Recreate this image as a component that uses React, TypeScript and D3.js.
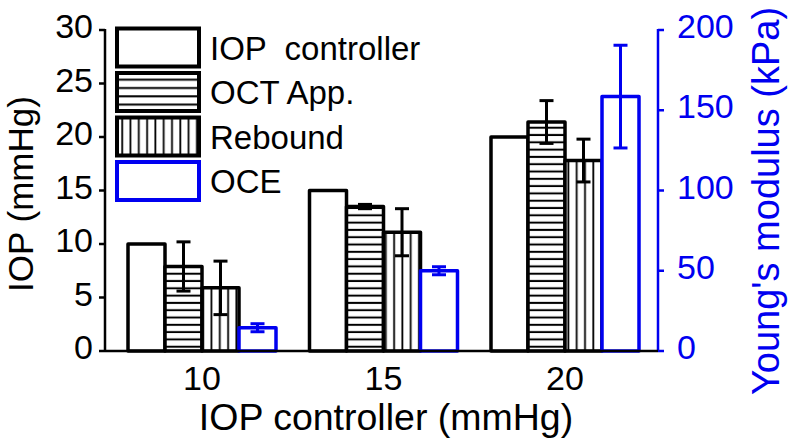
import React from 'react';
import * as d3 from 'd3';

const categories = ['10', '15', '20'];
const seriesNames = ['IOP  controller', 'OCT App.', 'Rebound', 'OCE'];
const iopController = [10, 15, 20];
const octApp = [7.9, 13.5, 21.4];
const octAppErr = [2.3, 0.2, 2.0];
const rebound = [5.9, 11.1, 17.8];
const reboundErr = [2.5, 2.2, 2.0];
const oce = [14.5, 50, 158.5];
const oceErr = [2.5, 2.5, 32];
const leftTicks = [0, 5, 10, 15, 20, 25, 30];
const rightTicks = [0, 50, 100, 150, 200];

const BLUE = '#0000f0';
const FONT = '"Liberation Sans", Arial, Helvetica, sans-serif';

export default function App() {
  const W = 792, H = 446;
  const x0 = 105, x1 = 658, yBase = 351, yTop = 30;
  const yL = d3.scaleLinear().domain([0, 30]).range([yBase, yTop]);
  const yR = d3.scaleLinear().domain([0, 200]).range([yBase, yTop]);
  const xG = d3.scalePoint<string>().domain(categories).range([202, 565]);
  const xS = d3.scaleBand<string>().domain(seriesNames).range([-74, 74]).padding(0);
  const bw = xS.bandwidth();

  const series = [
    { name: seriesNames[0], values: iopController, err: null as number[] | null, fill: 'white', stroke: 'black', y: yL },
    { name: seriesNames[1], values: octApp, err: octAppErr, fill: 'url(#hatchH)', stroke: 'black', y: yL },
    { name: seriesNames[2], values: rebound, err: reboundErr, fill: 'url(#hatchV)', stroke: 'black', y: yL },
    { name: seriesNames[3], values: oce, err: oceErr, fill: 'white', stroke: BLUE, y: yR },
  ];

  const legendFills = ['white', 'url(#hatchHL)', 'url(#hatchVL)', 'white'];
  const legendStrokes = ['black', 'black', 'black', BLUE];

  return (
    <div style={{ position: 'absolute', left: 0, top: 0 }}>
      <svg width={W} height={H} style={{ display: 'block', background: 'white' }} fontFamily={FONT}>
        <defs>
          <pattern id="hatchH" patternUnits="userSpaceOnUse" width={10} height={7.3}>
            <rect width={10} height={7.3} fill="white" />
            <line x1={0} x2={10} y1={3.6} y2={3.6} stroke="black" strokeWidth={2} />
          </pattern>
          <pattern id="hatchV" patternUnits="userSpaceOnUse" width={8.3} height={10}>
            <rect width={8.3} height={10} fill="white" />
            <line x1={4} x2={4} y1={0} y2={10} stroke="black" strokeWidth={1.8} />
          </pattern>
          <pattern id="hatchHL" patternUnits="userSpaceOnUse" width={10} height={8.3} y={1}>
            <rect width={10} height={8.3} fill="white" />
            <line x1={0} x2={10} y1={4} y2={4} stroke="black" strokeWidth={2} />
          </pattern>
          <pattern id="hatchVL" patternUnits="userSpaceOnUse" width={8.3} height={10} x={2}>
            <rect width={8.3} height={10} fill="white" />
            <line x1={4} x2={4} y1={0} y2={10} stroke="black" strokeWidth={1.8} />
          </pattern>
        </defs>

        {/* bars */}
        {categories.map((c, ci) => (
          <g key={c}>
            {series.map((s) => {
              const xx = (xG(c) as number) + (xS(s.name) as number);
              const yy = s.y(s.values[ci]);
              return (
                <rect key={s.name} x={xx} y={yy} width={bw} height={yBase - yy}
                  fill={s.fill} stroke={s.stroke} strokeWidth={3.5} strokeLinejoin="round" />
              );
            })}
          </g>
        ))}

        {/* error bars */}
        {categories.map((c, ci) => (
          <g key={'e' + c}>
            {series.filter((s) => s.err).map((s) => {
              const cx = (xG(c) as number) + (xS(s.name) as number) + bw / 2;
              const v = s.values[ci];
              const e = (s.err as number[])[ci];
              const yt = s.y(v + e), yb = s.y(v - e);
              return (
                <g key={s.name} stroke={s.stroke} strokeWidth={3}>
                  <line x1={cx} x2={cx} y1={yt} y2={yb} />
                  <line x1={cx - 7} x2={cx + 7} y1={yt} y2={yt} />
                  <line x1={cx - 7} x2={cx + 7} y1={yb} y2={yb} />
                </g>
              );
            })}
          </g>
        ))}

        {/* left axis */}
        <line x1={x0} x2={x0} y1={yTop - 1} y2={yBase + 1} stroke="black" strokeWidth={2.5} />
        {leftTicks.map((t) => (
          <g key={'l' + t}>
            <line x1={x0 - 6} x2={x0} y1={yL(t)} y2={yL(t)} stroke="black" strokeWidth={2.5} />
            <text x={93} y={yL(t) + 8} textAnchor="end" fontSize={34} fill="black">{t}</text>
          </g>
        ))}

        {/* right axis */}
        <line x1={x1} x2={x1} y1={yTop - 1} y2={yBase + 1} stroke={BLUE} strokeWidth={2.5} />
        {rightTicks.map((t) => (
          <g key={'r' + t}>
            <line x1={x1} x2={x1 + 6} y1={yR(t)} y2={yR(t)} stroke={BLUE} strokeWidth={2.5} />
            <text x={677} y={yR(t) + 8} textAnchor="start" fontSize={34} fill={BLUE}>{t}</text>
          </g>
        ))}

        {/* bottom axis */}
        <line x1={x0} x2={x1} y1={yBase} y2={yBase} stroke="black" strokeWidth={2.5} />
        {categories.map((c) => (
          <text key={'x' + c} x={xG(c) as number} y={390} textAnchor="middle" fontSize={34} fill="black">{c}</text>
        ))}

        {/* titles */}
        <text x={386} y={430} textAnchor="middle" fontSize={37.5} fill="black">IOP controller (mmHg)</text>
        <text transform="translate(33,194) rotate(-90)" textAnchor="middle" fontSize={35} fill="black">IOP (mmHg)</text>
        <text transform="translate(779,201) rotate(-90)" textAnchor="middle" fontSize={38} fill={BLUE}>Young's modulus (kPa)</text>

        {/* legend */}
        {seriesNames.map((n, i) => {
          const cy = 47.5 + i * 44.5;
          return (
            <g key={'lg' + n}>
              <rect x={117} y={cy - 19} width={82} height={38} fill={legendFills[i]}
                stroke={legendStrokes[i]} strokeWidth={4} />
              <text x={210} y={cy + 12} fontSize={33} fill="black" style={{ whiteSpace: 'pre' }}>{n}</text>
            </g>
          );
        })}
      </svg>
    </div>
  );
}
